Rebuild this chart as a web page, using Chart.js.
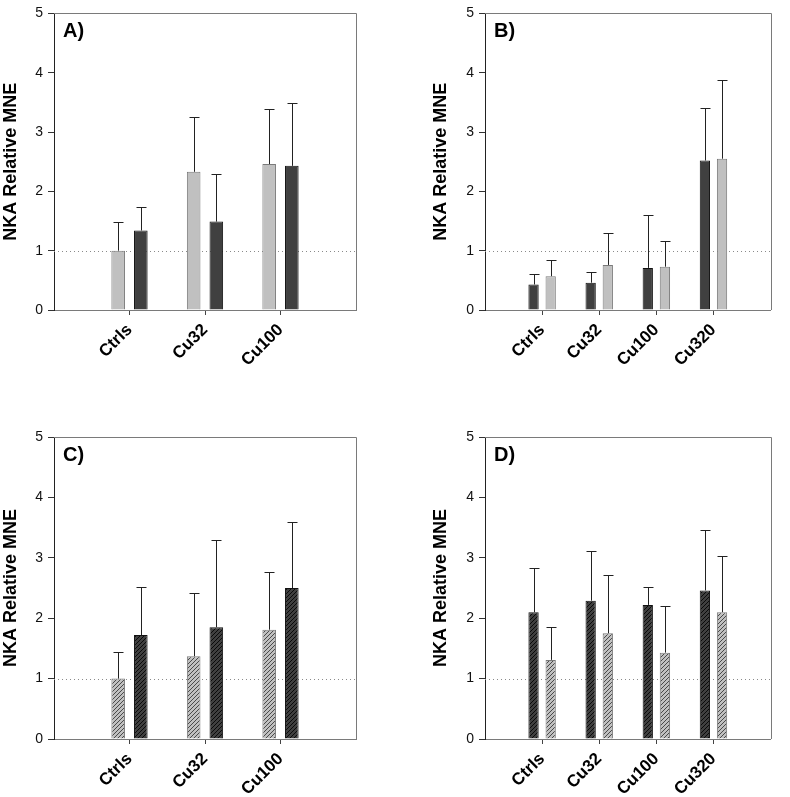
<!DOCTYPE html>
<html>
<head>
<meta charset="utf-8">
<script src="https://cdn.jsdelivr.net/npm/chart.js@4.4.1/dist/chart.umd.min.js"></script>
<style>
  html, body { margin: 0; padding: 0; background: #fff; }
  body { width: 790px; height: 797px; position: relative; overflow: hidden; }
  canvas { position: absolute; }
</style>
</head>
<body>
<canvas id="cA" width="395" height="400" style="left:0px;top:0px;"></canvas>
<canvas id="cB" width="360" height="400" style="left:430px;top:0px;"></canvas>
<canvas id="cC" width="395" height="397" style="left:0px;top:400px;"></canvas>
<canvas id="cD" width="360" height="397" style="left:430px;top:400px;"></canvas>
<script>
// ---------- DATA ----------
const categories3 = ['Ctrls', 'Cu32', 'Cu100'];
const categories4 = ['Ctrls', 'Cu32', 'Cu100', 'Cu320'];
const yTicks = [0, 1, 2, 3, 4, 5];
const yTitle = 'NKA Relative MNE';

// Panel A (light, dark)
const aLight = [1.00, 2.33, 2.46];
const aLightErr = [1.49, 3.25, 3.39];
const aDark = [1.34, 1.49, 2.43];
const aDarkErr = [1.73, 2.29, 3.49];

// Panel B (dark, light)
const bDark = [0.43, 0.46, 0.71, 2.52];
const bDarkErr = [0.61, 0.64, 1.60, 3.41];
const bLight = [0.57, 0.76, 0.73, 2.55];
const bLightErr = [0.84, 1.30, 1.17, 3.87];

// Panel C (light hatched, dark hatched)
const cLight = [1.00, 1.37, 1.81];
const cLightErr = [1.44, 2.42, 2.77];
const cDark = [1.72, 1.85, 2.50];
const cDarkErr = [2.52, 3.29, 3.59];

// Panel D (dark hatched, light hatched)
const dDark = [2.10, 2.29, 2.22, 2.46];
const dDarkErr = [2.83, 3.11, 2.51, 3.46];
const dLight = [1.31, 1.75, 1.43, 2.10];
const dLightErr = [1.85, 2.71, 2.21, 3.03];

// ---------- STYLE ----------
const FONT = '"Liberation Sans", Arial, Helvetica, sans-serif';
const LIGHT = '#c0c0c0', LIGHT_BORDER = '#7a7a7a';
const DARK = '#404040', DARK_BORDER = '#111111';

function hatch(bg, stripe) {
  const s = 4;
  const c = document.createElement('canvas');
  c.width = s; c.height = s;
  const g = c.getContext('2d');
  g.fillStyle = bg; g.fillRect(0, 0, s, s);
  g.strokeStyle = stripe; g.lineWidth = 1;
  g.beginPath();
  g.moveTo(0, s); g.lineTo(s, 0);
  g.moveTo(-1, 1); g.lineTo(1, -1);
  g.moveTo(s - 1, s + 1); g.lineTo(s + 1, s - 1);
  g.stroke();
  return g.createPattern(c, 'repeat');
}

const pad = (arr) => [null, ...arr, null];

function ds(values, errs, fill, border) {
  return {
    data: pad(values),
    errHigh: pad(errs),
    backgroundColor: fill,
    borderColor: border,
    borderWidth: 1,
    borderSkipped: 'bottom',
    categoryPercentage: 0.6,
    barPercentage: 0.6
  };
}

const decorPlugin = {
  id: 'decor',
  beforeDatasetsDraw(chart, args, opts) {
    const {ctx, chartArea: a, scales: {y}} = chart;
    ctx.save();
    // dotted reference line at 1
    const y1 = Math.round(y.getPixelForValue(1)) + 0.5;
    ctx.strokeStyle = '#8a8a8a';
    ctx.lineWidth = 1;
    ctx.setLineDash([1, 3]);
    ctx.beginPath(); ctx.moveTo(a.left, y1); ctx.lineTo(a.right, y1); ctx.stroke();
    ctx.setLineDash([]);
    // top & right frame
    ctx.strokeStyle = '#7a7a7a';
    ctx.beginPath();
    ctx.moveTo(a.left, Math.round(a.top) + 0.5); ctx.lineTo(Math.round(a.right) + 0.5, Math.round(a.top) + 0.5);
    ctx.lineTo(Math.round(a.right) + 0.5, a.bottom);
    ctx.stroke();
    ctx.restore();
  },
  afterDatasetsDraw(chart, args, opts) {
    const {ctx, chartArea: a, scales: {y}} = chart;
    ctx.save();
    ctx.strokeStyle = '#222';
    ctx.lineWidth = 1;
    chart.data.datasets.forEach((d, i) => {
      const meta = chart.getDatasetMeta(i);
      meta.data.forEach((el, j) => {
        const e = d.errHigh[j];
        if (e == null || d.data[j] == null) return;
        const x = Math.round(el.x) + 0.5;
        const yt = Math.round(y.getPixelForValue(e)) + 0.5;
        ctx.beginPath();
        ctx.moveTo(x, el.y);
        ctx.lineTo(x, yt);
        ctx.moveTo(x - 5, yt);
        ctx.lineTo(x + 5, yt);
        ctx.stroke();
      });
    });
    // panel label
    ctx.fillStyle = '#000';
    ctx.font = 'bold 20px ' + FONT;
    ctx.textBaseline = 'middle';
    ctx.textAlign = 'left';
    ctx.fillText(opts.label, a.left + 9, a.top + 18);
    ctx.restore();
  }
};

function makeChart(id, label, cats, datasets, topPad, rightPad, yWidth, xHeight) {
  const labels = ['', ...cats, ''];
  const n = labels.length;
  new Chart(document.getElementById(id), {
    type: 'bar',
    data: { labels, datasets },
    options: {
      responsive: false,
      animation: false,
      devicePixelRatio: 1,
      layout: { padding: { top: topPad, right: rightPad, left: 0, bottom: 0 } },
      plugins: {
        legend: { display: false },
        tooltip: { enabled: false },
        decor: { label }
      },
      scales: {
        x: {
          type: 'category',
          offset: false,
          grid: {
            display: true,
            offset: false,
            drawOnChartArea: false,
            drawTicks: true,
            tickLength: 5,
            color: (c) => (c.index === 0 || c.index === n - 1) ? 'rgba(0,0,0,0)' : '#444'
          },
          border: { display: true, color: '#7a7a7a', width: 1 },
          ticks: {
            autoSkip: false,
            minRotation: 45,
            maxRotation: 45,
            padding: 5,
            color: '#000',
            font: { family: FONT, size: 17, weight: 'bold' }
          },
          afterFit: (s) => { s.height = xHeight; }
        },
        y: {
          min: 0,
          max: 5,
          afterBuildTicks: (s) => { s.ticks = yTicks.map(v => ({ value: v })); },
          grid: {
            display: true,
            drawOnChartArea: false,
            drawTicks: true,
            tickLength: 6,
            color: '#333'
          },
          border: { display: true, color: '#222', width: 1 },
          ticks: {
            padding: 5,
            color: '#111',
            font: { family: FONT, size: 14 }
          },
          title: {
            display: true,
            text: yTitle,
            color: '#000',
            padding: 0,
            font: { family: FONT, size: 18, weight: 'bold' }
          },
          afterFit: (s) => { s.width = yWidth; }
        }
      }
    },
    plugins: [decorPlugin]
  });
}

const hLight = hatch(LIGHT, '#4a4a4a');
const hDark = hatch(DARK, '#0a0a0a');

makeChart('cA', 'A)', categories3, [
  ds(aLight, aLightErr, LIGHT, LIGHT_BORDER),
  ds(aDark, aDarkErr, DARK, DARK_BORDER)
], 8, 39, 54, 90);

makeChart('cB', 'B)', categories4, [
  ds(bDark, bDarkErr, DARK, DARK_BORDER),
  ds(bLight, bLightErr, LIGHT, LIGHT_BORDER)
], 8, 8, 55, 90);

makeChart('cC', 'C)', categories3, [
  ds(cLight, cLightErr, hLight, LIGHT_BORDER),
  ds(cDark, cDarkErr, hDark, DARK_BORDER)
], 37, 39, 54, 58);

makeChart('cD', 'D)', categories4, [
  ds(dDark, dDarkErr, hDark, DARK_BORDER),
  ds(dLight, dLightErr, hLight, LIGHT_BORDER)
], 37, 8, 55, 58);
</script>
</body>
</html>
